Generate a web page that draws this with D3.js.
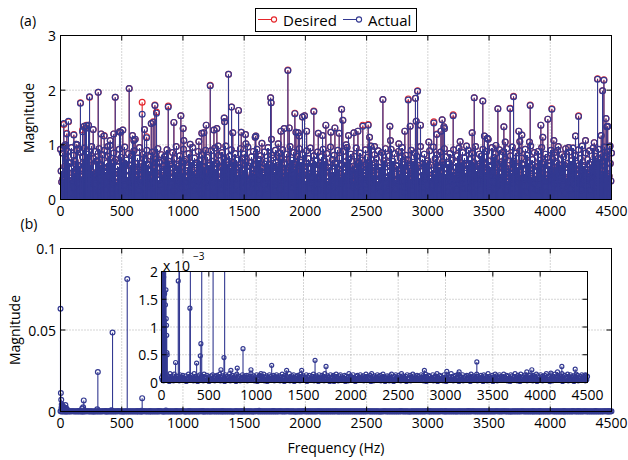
<!DOCTYPE html>
<html>
<head>
<meta charset="utf-8">
<script src="https://cdn.jsdelivr.net/npm/d3@7"></script>
<style>
  body { margin: 0; background: #fff; }
  svg { font-family: "Open Sans", sans-serif; }
</style>
</head>
<body>
<svg width="628" height="460"></svg>
<script>
// ---- panel (a): prominent peaks, Hz / actual / desired
let peakHz = [27,40,52,65,109,128,136,163,180,193,204,212,229,237,267,308,332,357,386,406,435,447,482,490,509,561,588,599,610,667,686,703,741,757,771,784,844,852,880,926,983,1002,1007,1059,1130,1154,1171,1190,1223,1253,1277,1288,1337,1340,1372,1397,1407,1454,1476,1511,1514,1590,1595,1645,1716,1720,1723,1778,1800,1827,1857,1868,1914,1923,1942,1950,1976,1993,2010,2069,2105,2140,2167,2208,2241,2276,2296,2306,2333,2352,2396,2429,2469,2513,2524,2565,2633,2690,2695,2763,2812,2840,2856,2899,2905,2916,2940,3008,3049,3073,3107,3117,3131,3136,3207,3264,3316,3362,3379,3412,3449,3462,3487,3493,3556,3572,3621,3632,3672,3700,3743,3751,3768,3830,3836,3923,3939,3980,4013,4029,4060,4150,4206,4231,4288,4359,4386,4394,4416,4427,4438,4455,4462,4469,4488];
let peakActual = [1.39,1.0,1.2,1.43,1.18,1.01,1.0,1.76,1.24,1.34,1.30,1.35,1.36,1.88,1.28,1.96,1.2,1.16,0.97,1.08,1.2,1.87,1.24,1.23,1.27,2.03,1.17,1.08,1.10,1.56,1.28,1.13,1.39,1.41,1.72,1.58,0.73,0.79,1.69,1.41,1.53,1.30,1.08,1.01,1.06,1.21,1.22,1.36,2.08,1.27,1.30,0.98,1.49,1.42,2.29,1.69,1.22,1.63,1.23,1.19,1.02,1.14,1.16,1.03,1.86,1.77,1.10,1.02,1.25,1.30,2.36,1.31,1.57,1.23,1.22,1.16,1.51,1.53,1.25,1.61,1.21,1.17,1.36,1.23,1.31,1.21,1.65,1.45,1.0,1.17,1.22,1.25,1.34,1.36,1.14,0.97,1.83,1.34,1.08,1.02,1.25,1.82,1.34,1.85,1.43,1.98,1.36,1.05,1.40,1.19,1.25,1.46,1.33,1.30,1.53,1.06,0.98,1.22,1.86,0.64,1.80,1.16,1.12,1.10,0.99,1.66,1.33,1.05,1.66,1.88,1.25,1.06,1.18,1.05,1.72,1.36,1.14,1.47,1.65,1.08,0.90,0.95,1.16,1.52,1.08,1.04,2.20,0.76,1.17,1.99,2.18,1.48,1.33,1.34,0.98];
let peakDesired = [1.37,1.0,1.21,1.42,1.19,1.01,1.0,1.77,1.27,1.34,1.31,1.36,1.36,1.87,1.28,1.96,1.2,1.17,0.97,1.08,1.2,1.87,1.24,1.23,1.27,2.03,1.17,1.08,1.10,1.78,1.28,1.15,1.39,1.42,1.73,1.60,0.73,0.79,1.71,1.41,1.53,1.30,1.08,1.01,1.06,1.21,1.22,1.36,2.09,1.27,1.30,0.98,1.49,1.42,2.29,1.69,1.22,1.63,1.23,1.19,1.02,1.14,1.16,1.03,1.86,1.77,1.10,1.02,1.25,1.30,2.37,1.31,1.58,1.23,1.22,1.16,1.51,1.53,1.25,1.62,1.21,1.17,1.36,1.23,1.31,1.21,1.65,1.45,1.0,1.17,1.22,1.25,1.36,1.37,1.14,0.97,1.83,1.34,1.08,1.02,1.25,1.84,1.34,1.85,1.43,1.99,1.36,1.05,1.42,1.20,1.25,1.46,1.33,1.30,1.55,1.06,0.98,1.22,1.86,0.64,1.80,1.16,1.12,1.10,0.99,1.66,1.33,1.05,1.67,1.89,1.25,1.06,1.18,1.05,1.73,1.36,1.14,1.47,1.66,1.08,0.90,0.95,1.16,1.53,1.08,1.04,2.21,0.76,1.17,1.99,2.19,1.48,1.33,1.34,0.98];

// dense background of panel (a): bins every 15 Hz (upper), 5+15k Hz (middle), 10+15k Hz (lower)
let floorHigh = [
  .92,.85,.98,.74,.88,.66,.95,.81,.70,.90,.62,.86,.78,.94,.69,.83,.60,.97,.75,.88,
  .71,.93,.64,.82,.90,.58,.79,.99,.67,.85,.73,.61,.92,.77,.68,.96,.72,.84,.63,.80,
  .89,.66,.76,.95,.60,.83,.71,.90,.65,.79,.87,.57,.74,.93,.68,.82,.62,.78,.91,.70,
  .64,.86,.75,.97,.61,.80,.69,.92,.73,.58,.84,.67,.95,.76,.63,.88,.71,.82,.60,.90,
  .77,.62,.89,.70,.94,.66,.81,.59,.86,.74,.98,.63,.79,.91,.68,.84,.72,.57,.93,.76,
  .83,.69,.96,.61,.78,.88,.65,.92,.73,.80,.58,.87,.70,.95,.64,.81,.76,.90,.62,.85,
  .74,.91,.67,.83,.59,.97,.72,.86,.64,.79,.93,.68,.82,.60,.89,.75,.94,.66,.80,.71,
  .87,.63,.78,.92,.70,.84,.58,.96,.73,.81,.65,.90,.76,.62,.88,.69,.95,.74,.83,.61,
  .79,.94,.66,.85,.72,.60,.91,.77,.68,.98,.63,.82,.75,.89,.59,.86,.71,.93,.67,.80,
  .92,.70,.84,.61,.88,.76,.95,.64,.81,.73,.57,.90,.68,.85,.79,.62,.97,.74,.83,.66,
  .71,.89,.63,.96,.75,.82,.60,.87,.69,.93,.78,.65,.84,.72,.91,.58,.80,.94,.67,.86,
  .76,.62,.90,.73,.85,.68,.97,.61,.83,.79,.92,.66,.88,.71,.59,.95,.77,.84,.64,.91,
  .69,.87,.74,.93,.62,.80,.96,.70,.85,.58,.89,.76,.64,.92,.81,.67,.98,.73,.86,.60,
  .88,.72,.95,.65,.83,.77,.61,.90,.74,.86,.69,.97,.63,.82,.78,.93,.66,.87,.71,.94,
  .80,.66,.91,.75,.98,.62,.85,.73,.89,.68,.94,.79,.64,.92,.83,.70,.96,.76,.88,.97,
  .85];
let floorMid = [
  .52,.38,.61,.45,.68,.33,.57,.49,.64,.41,.55,.36,.66,.47,.59,.31,.63,.50,.43,.70,
  .46,.62,.35,.58,.51,.67,.39,.54,.44,.69,.32,.60,.48,.56,.37,.65,.42,.53,.62,.34,
  .60,.43,.55,.37,.66,.49,.31,.63,.52,.40,.58,.46,.68,.35,.57,.44,.61,.38,.54,.65,
  .39,.57,.48,.64,.33,.59,.45,.70,.41,.53,.36,.62,.50,.47,.67,.34,.56,.43,.60,.49,
  .63,.35,.58,.42,.55,.66,.38,.51,.61,.46,.69,.32,.57,.40,.52,.64,.37,.59,.45,.54,
  .44,.60,.33,.67,.48,.39,.62,.56,.35,.58,.47,.65,.41,.53,.30,.61,.50,.68,.38,.57,
  .58,.41,.64,.50,.36,.61,.45,.55,.68,.39,.52,.43,.60,.34,.66,.48,.57,.31,.63,.46,
  .37,.66,.47,.53,.62,.31,.59,.44,.51,.67,.40,.56,.35,.64,.49,.58,.42,.61,.54,.33,
  .55,.48,.69,.38,.57,.44,.63,.36,.60,.52,.45,.67,.32,.59,.41,.54,.65,.39,.50,.62,
  .42,.59,.36,.62,.47,.56,.34,.68,.43,.61,.37,.53,.64,.46,.58,.33,.51,.66,.40,.57,
  .61,.39,.54,.46,.65,.35,.58,.49,.63,.32,.56,.42,.60,.51,.38,.67,.45,.55,.36,.64,
  .48,.63,.40,.57,.34,.60,.52,.37,.66,.45,.59,.31,.54,.62,.44,.50,.69,.41,.58,.47,
  .65,.43,.59,.33,.56,.48,.67,.40,.53,.61,.38,.64,.46,.35,.60,.55,.42,.63,.37,.52,
  .40,.57,.45,.68,.39,.62,.35,.54,.47,.59,.66,.41,.56,.50,.63,.36,.58,.44,.61,.53,
  .56,.34,.62,.49,.60,.43,.55,.38,.64,.51,.42,.58,.36,.67,.45,.53,.61,.48,.39,.66];
let floorLow = [
  .32,.18,.45,.27,.40,.12,.36,.22,.48,.30,.15,.42,.25,.38,.09,.34,.20,.46,.28,.41,
  .14,.37,.24,.50,.19,.33,.43,.11,.29,.39,.21,.47,.16,.35,.26,.44,.13,.31,.23,.49,
  .27,.40,.17,.34,.46,.10,.38,.25,.43,.20,.31,.48,.15,.36,.28,.41,.12,.33,.45,.22,
  .39,.16,.44,.29,.35,.21,.49,.13,.32,.42,.24,.37,.18,.47,.26,.34,.11,.40,.30,.45,
  .23,.46,.31,.14,.41,.28,.36,.19,.50,.25,.12,.43,.33,.17,.39,.27,.44,.15,.35,.21,
  .42,.26,.13,.38,.30,.47,.20,.34,.11,.45,.29,.36,.18,.41,.24,.49,.16,.32,.40,.19,
  .35,.12,.44,.27,.39,.22,.48,.31,.15,.37,.25,.43,.10,.34,.46,.20,.38,.28,.14,.41,
  .18,.40,.29,.47,.16,.33,.25,.42,.36,.13,.45,.21,.39,.30,.11,.44,.26,.35,.48,.23,
  .44,.24,.37,.15,.43,.28,.11,.40,.32,.49,.19,.35,.27,.46,.14,.38,.22,.41,.17,.33,
  .29,.47,.19,.36,.24,.42,.33,.13,.45,.26,.38,.16,.48,.31,.21,.40,.34,.12,.43,.27,
  .13,.38,.26,.45,.31,.18,.41,.35,.22,.47,.14,.33,.40,.25,.44,.17,.37,.29,.46,.20,
  .40,.21,.48,.33,.12,.39,.27,.44,.18,.36,.30,.49,.23,.15,.42,.32,.19,.45,.26,.37,
  .25,.43,.16,.31,.47,.20,.37,.11,.40,.29,.45,.24,.38,.14,.34,.48,.21,.30,.43,.17,
  .36,.15,.41,.24,.33,.46,.13,.39,.28,.44,.20,.35,.47,.26,.12,.40,.31,.18,.45,.29,
  .21,.44,.30,.18,.42,.35,.26,.49,.16,.38,.23,.41,.32,.13,.46,.27,.37,.20,.43,.34];

// ---- panel (b): error spectrum, values in units of 1e-3
let errPeakHz = [0,3,6,8,10,13,15,17,19,21,23,25,28,30,33,36,40,42,44,47,50,53,55,57,60,149,177,185,190,300,305,371,410,416,425,545,628,660,667,733,800,861,945,1051,1164,1322,1481,1622,1738,2777,3014,3144,3331,3859,3912,4113,4183,4229,4370,4476];
let errPeakMilli = [63,11.3,7.2,2.3,4.3,2.6,3.0,3.5,2.05,2.4,1.9,2.8,2.5,2.2,1.6,2.2,4.0,1.4,2.1,1.67,1.15,1.03,0.85,0.54,0.5,0.36,1.83,2.6,6.8,1.34,24.2,0.35,0.48,0.70,48.4,81.3,0.23,0.45,8.2,0.22,0.26,0.61,0.23,0.16,0.31,0.22,0.22,0.40,0.29,0.22,0.20,0.19,0.37,0.19,0.23,0.17,0.19,0.29,0.24,0.14];
let errFloorMilli = [
  .09,.14,.11,.07,.13,.10,.16,.08,.12,.15,.09,.11,.06,.14,.10,.13,.08,.12,.07,.15,
  .10,.13,.08,.16,.11,.07,.12,.14,.09,.11,.15,.08,.13,.10,.06,.12,.14,.09,.11,.13,
  .08,.15,.10,.12,.07,.14,.11,.09,.16,.10,.13,.08,.12,.15,.09,.11,.07,.14,.10,.12,
  .13,.09,.11,.16,.08,.12,.10,.14,.07,.13,.11,.09,.15,.10,.12,.08,.14,.11,.06,.13,
  .11,.14,.07,.12,.10,.15,.09,.13,.11,.08,.16,.10,.12,.14,.07,.11,.13,.09,.15,.10,
  .12,.08,.14,.10,.13,.07,.11,.15,.09,.12,.10,.14,.08,.13,.11,.16,.09,.12,.10,.14,
  .09,.13,.11,.15,.08,.12,.14,.10,.07,.13,.11,.09,.16,.12,.10,.14,.08,.11,.13,.09,
  .14,.10,.12,.08,.15,.11,.09,.13,.16,.10,.12,.07,.14,.11,.13,.09,.15,.10,.08,.12,
  .10,.12,.15,.09,.11,.14,.08,.13,.10,.16,.12,.09,.11,.14,.07,.13,.10,.15,.12,.08,
  .13,.11,.08,.14,.12,.10,.15,.09,.13,.11,.07,.14,.10,.12,.16,.08,.13,.11,.09,.14,
  .08,.14,.12,.10,.16,.09,.11,.13,.08,.15,.12,.10,.14,.09,.11,.13,.07,.12,.15,.10,
  .12,.09,.15,.11,.08,.13,.10,.14,.12,.09,.16,.11,.08,.13,.10,.15,.12,.09,.14,.11,
  .10,.15,.09,.13,.11,.07,.14,.12,.10,.16,.08,.13,.11,.15,.09,.12,.14,.10,.08,.13,
  .14,.11,.13,.08,.15,.12,.09,.14,.11,.10,.13,.16,.09,.12,.14,.08,.11,.15,.10,.12,
  .09,.12,.16,.10,.13,.08,.15,.11,.14,.09,.12,.10,.15,.13,.08,.11,.14,.12,.10,.13,
  .11];
let errFloorLowMilli = [
  .05,.03,.07,.04,.06,.02,.08,.05,.03,.06,.04,.07,.03,.05,.09,.04,.06,.02,.05,.07,
  .04,.06,.03,.08,.05,.02,.07,.04,.06,.03,.05,.08,.04,.02,.06,.05,.07,.03,.04,.06,
  .07,.03,.05,.06,.02,.08,.04,.05,.03,.07,.06,.04,.02,.05,.08,.03,.06,.04,.07,.05,
  .03,.06,.04,.07,.05,.03,.08,.02,.06,.04,.05,.07,.03,.06,.02,.05,.08,.04,.06,.03,
  .06,.04,.08,.03,.05,.07,.02,.06,.04,.05,.03,.07,.06,.02,.05,.08,.04,.03,.07,.05,
  .04,.07,.02,.05,.06,.04,.08,.03,.05,.07,.02,.06,.04,.05,.03,.07,.06,.04,.02,.08,
  .05,.02,.06,.08,.03,.05,.04,.07,.06,.02,.05,.03,.08,.04,.06,.05,.02,.07,.04,.06,
  .08,.05,.03,.06,.04,.07,.05,.02,.06,.03,.08,.04,.05,.07,.03,.06,.04,.02,.05,.07,
  .03,.06,.05,.02,.07,.04,.06,.08,.03,.05,.04,.06,.02,.07,.05,.03,.08,.04,.06,.05,
  .06,.04,.07,.05,.03,.08,.02,.05,.06,.04,.07,.03,.05,.06,.02,.04,.07,.05,.03,.08,
  .02,.07,.04,.06,.05,.03,.06,.08,.04,.02,.05,.07,.03,.06,.04,.05,.08,.02,.06,.04,
  .07,.05,.03,.04,.08,.06,.02,.05,.07,.03,.06,.04,.05,.02,.07,.06,.03,.08,.04,.05,
  .04,.08,.06,.03,.05,.02,.07,.04,.06,.05,.03,.08,.02,.06,.04,.07,.05,.03,.06,.04,
  .05,.03,.07,.06,.02,.04,.05,.08,.03,.06,.07,.04,.05,.02,.06,.03,.07,.05,.04,.08,
  .06,.04,.02,.07,.05,.08,.03,.06,.04,.05,.02,.07,.06,.03,.05,.04,.08,.06,.03,.05];

let freqTicks = [0,500,1000,1500,2000,2500,3000,3500,4000,4500];
let magTicksA = [0,1,2,3];
let magTicksB = [0,0.05,0.1];
let insetTicks = [0,0.5,1,1.5,2];

const blue = "#333991", red = "#e5262b";
let svg = d3.select("svg");

// build point lists
let floorHz = d3.range(0, 4501, 15);
let midHz = floorHz.slice(0, floorMid.length).map(f => f + 5);
let lowHz = floorHz.slice(0, floorLow.length).map(f => f + 10);
let lowErrHz = floorHz.slice(0, errFloorLowMilli.length).map(f => f + 7);

let floorPts = [];
floorHz.forEach((f, i) => floorPts.push({ f: f, v: floorHigh[i] }));
midHz.forEach((f, i) => floorPts.push({ f: f, v: floorMid[i] }));
lowHz.forEach((f, i) => floorPts.push({ f: f, v: floorLow[i] }));
let actualPeaks = peakHz.map((f, i) => ({ f: f, v: peakActual[i] }));
let desiredPeaks = peakHz.map((f, i) => ({ f: f, v: peakDesired[i] }));

let errFloorPts = [], errPeakPts = [];
floorHz.forEach((f, i) => errFloorPts.push({ f: f, v: errFloorMilli[i] * 1e-3 }));
lowErrHz.forEach((f, i) => errFloorPts.push({ f: f, v: errFloorLowMilli[i] * 1e-3 }));
errPeakHz.forEach((f, i) => errPeakPts.push({ f: f, v: errPeakMilli[i] * 1e-3 }));

function grid(g, x, y, xt, yt) {
    let [x0, x1] = x.range(), [y0, y1] = y.range();
    g.selectAll(".gx").data(xt.slice(1, -1)).enter().append("line")
        .attr("x1", d => x(d)).attr("x2", d => x(d)).attr("y1", y0).attr("y2", y1)
        .attr("stroke", "#aaa").attr("stroke-dasharray", "1,2");
    g.selectAll(".gy").data(yt.slice(1, -1)).enter().append("line")
        .attr("y1", d => y(d)).attr("y2", d => y(d)).attr("x1", x0).attr("x2", x1)
        .attr("stroke", "#aaa").attr("stroke-dasharray", "1,2");
}

function frame(g, x, y, xt, yt, yfmt, xLabY, yLabX) {
    let [x0, x1] = x.range(), [y0, y1] = y.range();
    let tl = 5;
    xt.forEach(t => {
        g.append("line").attr("x1", x(t)).attr("x2", x(t)).attr("y1", y0).attr("y2", y0 - tl).attr("stroke", "#000");
        g.append("line").attr("x1", x(t)).attr("x2", x(t)).attr("y1", y1).attr("y2", y1 + tl).attr("stroke", "#000");
        g.append("text").attr("x", x(t)).attr("y", xLabY).attr("text-anchor", "middle")
            .attr("dominant-baseline", "central").style("font-size", "14px").text(t);
    });
    yt.forEach(t => {
        g.append("line").attr("y1", y(t)).attr("y2", y(t)).attr("x1", x0).attr("x2", x0 + tl).attr("stroke", "#000");
        g.append("line").attr("y1", y(t)).attr("y2", y(t)).attr("x1", x1).attr("x2", x1 - tl).attr("stroke", "#000");
        g.append("text").attr("x", yLabX).attr("y", y(t)).attr("text-anchor", "end")
            .attr("dominant-baseline", "central").style("font-size", "14px").text(yfmt(t));
    });
    g.append("rect").attr("x", x0).attr("y", y1).attr("width", x1 - x0).attr("height", y0 - y1)
        .attr("fill", "none").attr("stroke", "#000");
}

// stem plot; crisp=true for the dense background so the colour stays solid
function stems(g, pts, x, y, color, r, crisp) {
    let base = y(0);
    g.selectAll(null).data(pts).enter().append("line")
        .attr("x1", d => x(d.f)).attr("x2", d => x(d.f))
        .attr("y1", base).attr("y2", d => y(d.v))
        .attr("stroke", color).attr("stroke-width", crisp ? 1.3 : 1.1)
        .attr("shape-rendering", crisp ? "crispEdges" : null);
    g.selectAll(null).data(pts).enter().append("circle")
        .attr("cx", d => x(d.f)).attr("cy", d => y(d.v)).attr("r", r)
        .attr("fill", "none").attr("stroke", color).attr("stroke-width", 1.2);
}

// ---------- panel (a)
let xA = d3.scaleLinear().domain([0, 4500]).range([60.5, 611.5]);
let yA = d3.scaleLinear().domain([0, 3]).range([199.5, 35.5]);
let gA = svg.append("g");
grid(gA, xA, yA, freqTicks, magTicksA);
stems(gA.append("g"), floorPts, xA, yA, red, 2.9, true);
stems(gA.append("g"), desiredPeaks, xA, yA, red, 2.9, false);
stems(gA.append("g"), floorPts, xA, yA, blue, 2.9, true);
stems(gA.append("g"), actualPeaks, xA, yA, blue, 2.9, false);
frame(gA, xA, yA, freqTicks, magTicksA, d => d, 210, 56);
svg.append("text").attr("x", 28).attr("y", 20).attr("text-anchor", "middle")
    .attr("dominant-baseline", "central").style("font-size", "14px").text("(a)");
svg.append("text").attr("transform", "translate(28,118) rotate(-90)").attr("text-anchor", "middle")
    .attr("dominant-baseline", "central").style("font-size", "14px").text("Magnitude");

// legend
let leg = svg.append("g");
leg.append("rect").attr("x", 255.5).attr("y", 8.5).attr("width", 161).attr("height", 23)
    .attr("fill", "#fff").attr("stroke", "#000");
[{ name: "Desired", c: red, x: 258 }, { name: "Actual", c: blue, x: 343 }].forEach(s => {
    leg.append("line").attr("x1", s.x).attr("x2", s.x + 19).attr("y1", 19.5).attr("y2", 19.5)
        .attr("stroke", s.c);
    leg.append("circle").attr("cx", s.x + 16).attr("cy", 19.5).attr("r", 2.6)
        .attr("fill", "#fff").attr("stroke", s.c).attr("stroke-width", 1.1);
    leg.append("text").attr("x", s.x + 25).attr("y", 19.5).attr("dominant-baseline", "central")
        .style("font-size", "15px").text(s.name);
});

// ---------- panel (b)
let xB = d3.scaleLinear().domain([0, 4500]).range([60.5, 611.5]);
let yB = d3.scaleLinear().domain([0, 0.1]).range([411.5, 248.5]);
let gB = svg.append("g");
grid(gB, xB, yB, freqTicks, magTicksB);
stems(gB.append("g"), errFloorPts, xB, yB, blue, 2.4, true);
stems(gB.append("g"), errPeakPts, xB, yB, blue, 2.4, false);
frame(gB, xB, yB, freqTicks, magTicksB, d => d, 422, 56);
svg.append("text").attr("x", 29).attr("y", 223).attr("text-anchor", "middle")
    .attr("dominant-baseline", "central").style("font-size", "14px").text("(b)");
svg.append("text").attr("transform", "translate(14,330) rotate(-90)").attr("text-anchor", "middle")
    .attr("dominant-baseline", "central").style("font-size", "14px").text("Magnitude");
svg.append("text").attr("x", 336).attr("y", 447).attr("text-anchor", "middle")
    .attr("dominant-baseline", "central").style("font-size", "14px").text("Frequency (Hz)");

// inset
let xI = d3.scaleLinear().domain([0, 4500]).range([161.5, 587.5]);
let yI = d3.scaleLinear().domain([0, 2e-3]).range([382.5, 271.5]);
let gI = svg.append("g");
gI.append("rect").attr("x", 161.5).attr("y", 271.5).attr("width", 426).attr("height", 111).attr("fill", "#fff");
gI.append("clipPath").attr("id", "clipI").append("rect")
    .attr("x", 158).attr("y", 271.5).attr("width", 433).attr("height", 116);
grid(gI, xI, yI, freqTicks, insetTicks.map(d => d * 1e-3));
let gIc = gI.append("g").attr("clip-path", "url(#clipI)");
stems(gIc.append("g"), errFloorPts, xI, yI, blue, 2.0, true);
stems(gIc.append("g"), errPeakPts, xI, yI, blue, 2.0, false);
frame(gI, xI, yI, freqTicks, insetTicks.map(d => d * 1e-3), d => +(d * 1e3).toFixed(1), 394, 158);
let ex = svg.append("text").attr("x", 163).attr("y", 265).attr("dominant-baseline", "central").style("font-size", "14px");
ex.append("tspan").text("x 10");
ex.append("tspan").attr("dx", 3).attr("dy", -9).style("font-size", "10px").text("\u22123");
</script>
</body>
</html>
